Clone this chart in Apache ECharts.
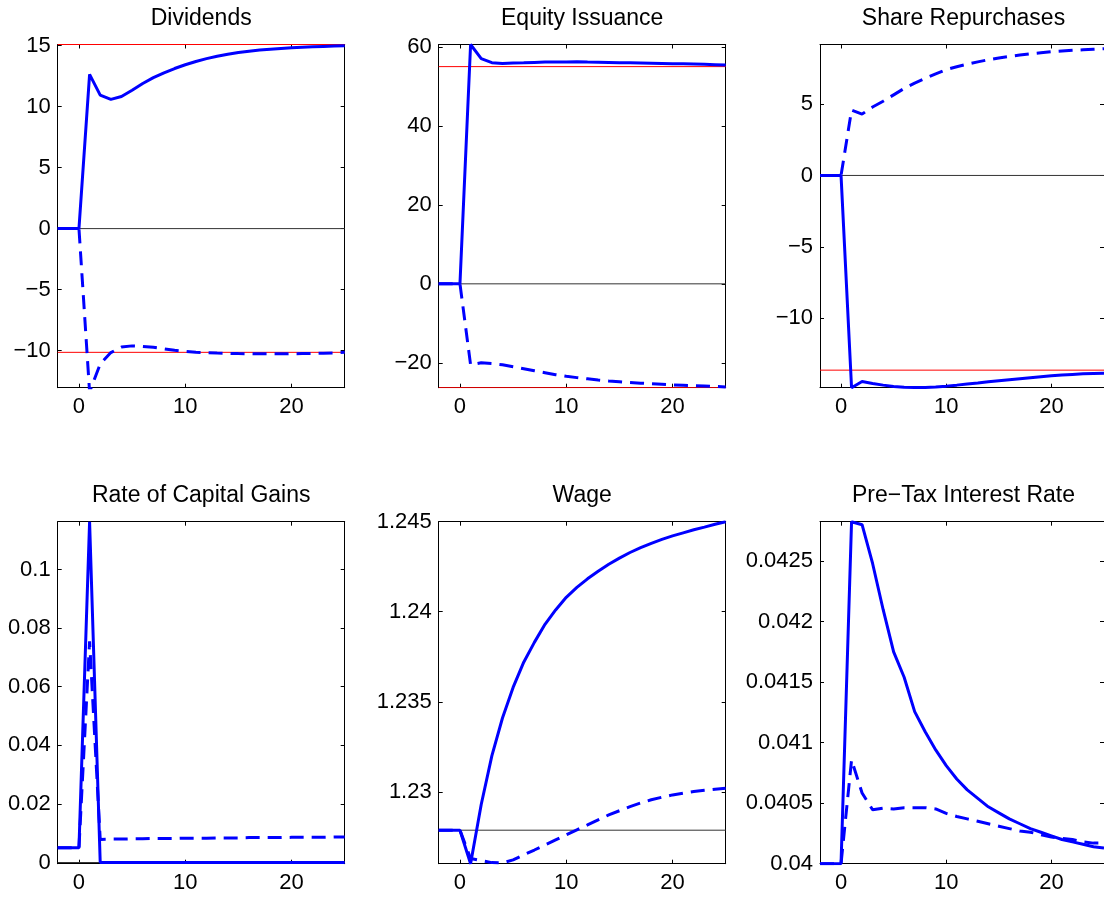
<!DOCTYPE html>
<html>
<head>
<meta charset="utf-8">
<script src="https://cdn.jsdelivr.net/npm/echarts@6/dist/echarts.min.js"></script>
<style>
html,body{margin:0;padding:0;background:#fff;}
#chart{width:1104px;height:897px;}
</style>
</head>
<body>
<div id="chart"></div>
<script>
// ---------- data ----------
const periods = [-2,-1,0,1,2,3,4,5,6,7,8,9,10,11,12,13,14,15,16,17,18,19,20,21,22,23,24,25];
const xRange = [-2, 25];
const xTicks = [0, 10, 20];

const titles = ['Dividends', 'Equity Issuance', 'Share Repurchases',
                'Rate of Capital Gains', 'Wage', 'Pre\u2212Tax Interest Rate'];

// Dividends
const divSolid  = [0,0,0,12.65,10.95,10.6,10.83,11.35,11.9,12.38,12.78,13.13,13.44,13.71,13.94,14.13,14.3,14.44,14.55,14.64,14.72,14.78,14.83,14.87,14.91,14.94,14.97,15.0];
const divDashed = [0,0,0,-13.4,-11.1,-10.17,-9.72,-9.62,-9.66,-9.74,-9.86,-9.98,-10.07,-10.14,-10.18,-10.21,-10.23,-10.25,-10.26,-10.27,-10.27,-10.27,-10.26,-10.25,-10.24,-10.22,-10.2,-10.15];
const divRange = [-13.05, 15.1];
const divTicks = [-10, -5, 0, 5, 10, 15];
const divBase = [0];
const divRed = [15.1, -10.15];

// Equity Issuance
const eqSolid  = [0,0,0,60.6,57.0,56.0,55.8,55.9,55.95,56.05,56.15,56.2,56.2,56.25,56.15,56.1,56.05,56.0,55.95,55.9,55.85,55.8,55.75,55.7,55.65,55.6,55.5,55.4];
const eqDashed = [0,0,0,-20.5,-20.0,-20.2,-20.5,-21.0,-21.5,-22.0,-22.5,-23.0,-23.4,-23.75,-24.05,-24.35,-24.6,-24.8,-25.0,-25.15,-25.3,-25.45,-25.6,-25.7,-25.8,-25.9,-26.0,-26.1];
const eqRange = [-26.3, 60.6];
const eqTicks = [-20, 0, 20, 40, 60];
const eqBase = [0];
const eqRed = [55.0, -26.3];

// Share Repurchases
const srSolid  = [0,0,0,-14.88,-14.45,-14.58,-14.7,-14.8,-14.85,-14.87,-14.86,-14.83,-14.77,-14.7,-14.62,-14.55,-14.47,-14.4,-14.33,-14.26,-14.19,-14.12,-14.05,-13.99,-13.95,-13.91,-13.88,-13.86];
const srDashed = [0,0,0,4.58,4.3,4.8,5.2,5.65,6.1,6.47,6.8,7.12,7.42,7.62,7.8,7.96,8.11,8.23,8.34,8.44,8.53,8.6,8.67,8.72,8.77,8.81,8.85,8.88];
const srRange = [-14.88, 9.18];
const srTicks = [-10, -5, 0, 5];
const srBase = [0];
const srRed = [-13.65];

// Rate of Capital Gains
const cgSolid  = [0.005,0.005,0.005,0.1163,0,0,0,0,0,0,0,0,0,0,0,0,0,0,0,0,0,0,0,0,0,0,0,0];
const cgDashed = [0.005,0.005,0.005,0.0755,0.0079,0.0080,0.0080,0.0081,0.0081,0.0082,0.0082,0.0082,0.0083,0.0083,0.0083,0.0084,0.0084,0.0084,0.0085,0.0085,0.0085,0.0085,0.0086,0.0086,0.0086,0.0086,0.0087,0.0087];
const cgRange = [-0.0004, 0.1163];
const cgTicks = [0, 0.02, 0.04, 0.06, 0.08, 0.1];
const cgBase = [0];
const cgRed = [];

// Wage
const wageSolid  = [1.22787,1.22787,1.22787,1.22601,1.2293,1.2320,1.2341,1.2358,1.2372,1.2383,1.2393,1.2401,1.2408,1.24135,1.24183,1.24225,1.24264,1.24298,1.24329,1.24356,1.2438,1.24402,1.24421,1.24438,1.24455,1.2447,1.24486,1.245];
const wageDashed = [1.22787,1.22787,1.22787,1.2263,1.22618,1.22607,1.22605,1.22622,1.2265,1.22677,1.22705,1.22733,1.22761,1.22789,1.22816,1.22844,1.22872,1.22895,1.22918,1.22938,1.22956,1.2297,1.22983,1.22993,1.23002,1.23009,1.23015,1.2302];
const wageRange = [1.22601, 1.245];
const wageTicks = [1.23, 1.235, 1.24, 1.245];
const wageBase = [1.22787];
const wageRed = [];

// Pre-Tax Interest Rate
const irSolid  = [0.04,0.04,0.04,0.042825,0.0428,0.04248,0.0421,0.04175,0.04154,0.041256,0.04109,0.04094,0.04081,0.0407,0.04061,0.04054,0.04047,0.04042,0.04037,0.04033,0.04029,0.04026,0.04023,0.0402,0.04018,0.04016,0.04014,0.04013];
const irDashed = [0.04,0.04,0.04,0.040857,0.040584,0.040445,0.040458,0.040452,0.040463,0.040463,0.040463,0.040452,0.040416,0.04039,0.04037,0.04035,0.04033,0.04031,0.04029,0.04027,0.04026,0.04024,0.04022,0.04021,0.0402,0.04018,0.04017,0.04017];
const irRange = [0.04, 0.042825];
const irTicks = [0.04, 0.0405, 0.041, 0.0415, 0.042, 0.0425];
const irBase = [];
const irRed = [];

// ---------- layout / style ----------
const FONT = "'Liberation Sans', Arial, Helvetica, sans-serif";
const colLeft = [57.7, 438.7, 820];
const rowTop = [44.5, 521.7];
const rowHeight = [343.2, 342];
const gridW = 287;
const titleTop = [7, 484];
const BLUE = '#0000ff';

const panels = [
  {solid: divSolid,  dashed: divDashed,  range: divRange,  ticks: divTicks,  base: divBase,  red: divRed},
  {solid: eqSolid,   dashed: eqDashed,   range: eqRange,   ticks: eqTicks,   base: eqBase,   red: eqRed},
  {solid: srSolid,   dashed: srDashed,   range: srRange,   ticks: srTicks,   base: srBase,   red: srRed},
  {solid: cgSolid,   dashed: cgDashed,   range: cgRange,   ticks: cgTicks,   base: cgBase,   red: cgRed},
  {solid: wageSolid, dashed: wageDashed, range: wageRange, ticks: wageTicks, base: wageBase, red: wageRed},
  {solid: irSolid,   dashed: irDashed,   range: irRange,   ticks: irTicks,   base: irBase,   red: irRed}
];

const fmt = v => String(v).replace('-', '\u2212');

const grid = [], xAxis = [], yAxis = [], series = [], title = [];

panels.forEach((p, i) => {
  const row = Math.floor(i / 3), col = i % 3;
  const left = colLeft[col], top = rowTop[row], h = rowHeight[row];
  grid.push({left: left, top: top, width: gridW, height: h, containLabel: false});
  title.push({
    text: titles[i], left: left + gridW / 2, top: titleTop[row], textAlign: 'center', padding: 0,
    textStyle: {fontSize: 23, fontWeight: 'normal', color: '#000', fontFamily: FONT}
  });
  const axisCommon = (isLabel, ticks) => ({
    axisLine: {show: true, onZero: false, lineStyle: {color: '#000', width: 1}},
    axisTick: {show: true, inside: true, length: 4, customValues: ticks, lineStyle: {color: '#000', width: 1}},
    axisLabel: {show: isLabel, customValues: ticks, fontSize: 22, color: '#000', fontFamily: FONT, formatter: fmt},
    splitLine: {show: false}
  });
  const xb = Object.assign({type: 'value', gridIndex: i, min: xRange[0], max: xRange[1], position: 'bottom'}, axisCommon(true, xTicks));
  xb.axisLabel.margin = 8;
  const xt = Object.assign({type: 'value', gridIndex: i, min: xRange[0], max: xRange[1], position: 'top'}, axisCommon(false, xTicks));
  const yl = Object.assign({type: 'value', gridIndex: i, min: p.range[0], max: p.range[1], position: 'left'}, axisCommon(true, p.ticks));
  yl.axisLabel.margin = 7;
  const yr = Object.assign({type: 'value', gridIndex: i, min: p.range[0], max: p.range[1], position: 'right'}, axisCommon(false, p.ticks));
  xAxis.push(xb, xt);
  yAxis.push(yl, yr);
  const xi = 2 * i, yi = 2 * i;
  p.base.forEach(v => series.push({
    type: 'line', xAxisIndex: xi, yAxisIndex: yi, data: [[xRange[0], v], [xRange[1], v]],
    symbol: 'none', silent: true, z: 1, lineStyle: {color: '#333', width: 1}
  }));
  p.red.forEach(v => series.push({
    type: 'line', xAxisIndex: xi, yAxisIndex: yi, data: [[xRange[0], v], [xRange[1], v]],
    symbol: 'none', silent: true, z: 1, lineStyle: {color: '#ff0000', width: 1}
  }));
  series.push({
    type: 'line', xAxisIndex: xi, yAxisIndex: yi, data: periods.map((t, k) => [t, p.solid[k]]),
    symbol: 'none', silent: true, z: 3, lineStyle: {color: BLUE, width: 3}
  });
  series.push({
    type: 'line', xAxisIndex: xi, yAxisIndex: yi, data: periods.map((t, k) => [t, p.dashed[k]]),
    symbol: 'none', silent: true, z: 3, lineStyle: {color: BLUE, width: 3, type: [14, 8]}
  });
});

const chart = echarts.init(document.getElementById('chart'), null, {renderer: 'canvas'});
chart.setOption({
  animation: false,
  backgroundColor: '#fff',
  title: title,
  grid: grid,
  xAxis: xAxis,
  yAxis: yAxis,
  series: series
});
</script>
</body>
</html>
